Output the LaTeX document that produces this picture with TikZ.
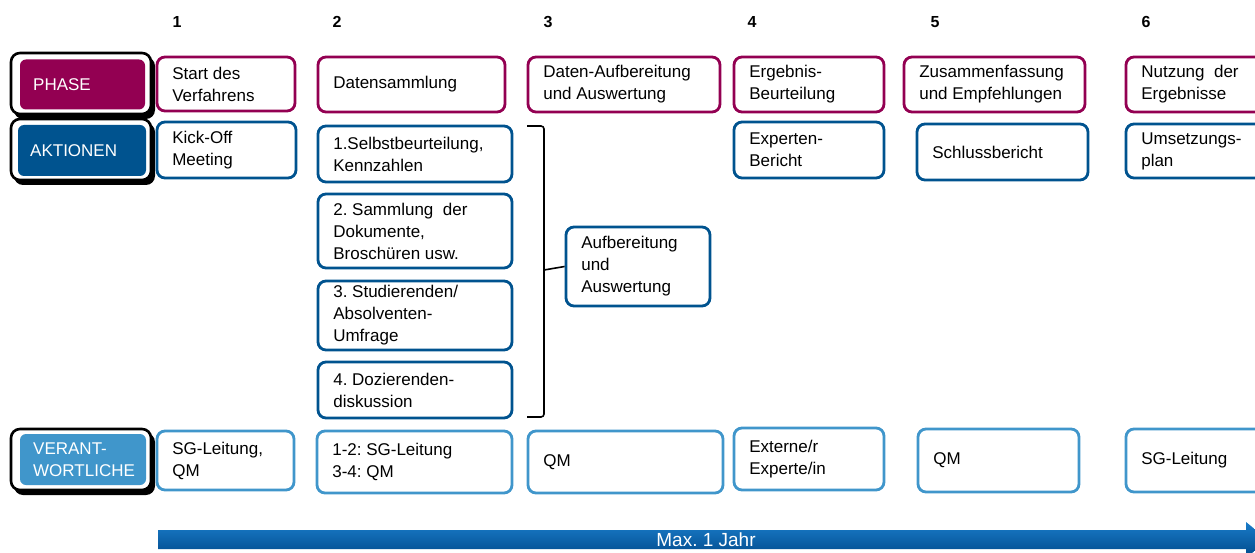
\documentclass[tikz,border=0pt]{standalone}
\usepackage{fontspec}
\setmainfont{Liberation Sans}
\frenchspacing
\definecolor{phasecol}{HTML}{930052}
\definecolor{aktcol}{HTML}{00538F}
\definecolor{vercol}{HTML}{4096CB}
\definecolor{bartop}{HTML}{1A7CC9}
\definecolor{barbot}{HTML}{00498A}
\newcommand\mkbox[7]{%
  \node[#6, minimum width={(#4-#2)*1pt}, minimum height={(#5-#3)*1pt}]
    (#1) at ({(#2+#4)/2},{(#3+#5)/2}) {};
  \node[boxtext, anchor=west] (#1t) at ([xshift=16.5pt]#1.west) {#7};}
\begin{document}
\begin{tikzpicture}[x=1pt,y=-1pt,
  every node/.style={font=\fontsize{17}{22}\selectfont, inner sep=0pt, align=left},
  boxtext/.style={inner sep=0pt},
  boxbase/.style={draw, rounded corners=8pt, line width=2.8pt, fill=white},
  phasebox/.style={boxbase, draw=phasecol},
  aktbox/.style={boxbase, draw=aktcol},
  verbox/.style={boxbase, draw=vercol},
  numlbl/.style={font=\fontsize{16}{18}\selectfont\bfseries, inner sep=0pt},
  framebox/.style={draw=black, line width=2.6pt, rounded corners=9pt, fill=white},
  shadowbox/.style={fill=black, rounded corners=9pt},
  labelbox/.style={rounded corners=6pt},
  labeltext/.style={text=white, anchor=west}
]
\useasboundingbox (0,0) rectangle (1255,553);

% column numbers
\node[numlbl] (n1) at (177,22) {1};
\node[numlbl] (n2) at (337,22) {2};
\node[numlbl] (n3) at (548,22) {3};
\node[numlbl] (n4) at (752,22) {4};
\node[numlbl] (n5) at (935,22) {5};
\node[numlbl] (n6) at (1146,22) {6};

% left label boxes
\foreach \ya/\yb in {53/114, 119/180, 429/490}{
  \fill[shadowbox] (14,{\ya+4}) rectangle (155,{\yb+5});
  \draw[framebox] (11,\ya) rectangle (151,\yb);
}
\node[labelbox, fill=phasecol, minimum width=125pt, minimum height=50pt] (lphase) at (82.5,84.5) {};
\node[labeltext] (lphaset) at (33,84.5) {PHASE};
\node[labelbox, fill=aktcol, minimum width=128pt, minimum height=51pt] (lakt) at (82,150.5) {};
\node[labeltext] (laktt) at (30,150.5) {AKTIONEN};
\node[labelbox, fill=vercol, minimum width=126pt, minimum height=51pt] (lver) at (83,459.5) {};
\node[labeltext] (lvert) at (33,459.5) {VERANT-\\WORTLICHE};

% phase row
\mkbox{p1}{157}{57}{295}{111}{phasebox}{Start des\\Verfahrens}
\mkbox{p2}{318}{57}{505}{112}{phasebox}{Datensammlung}
\mkbox{p3}{528}{57}{720}{112}{phasebox}{Daten-Aufbereitung\\und Auswertung}
\mkbox{p4}{734}{57}{884}{112}{phasebox}{Ergebnis-\\Beurteilung}
\mkbox{p5}{904}{57}{1085}{112}{phasebox}{Zusammenfassung\\und Empfehlungen}
\mkbox{p6}{1126}{57}{1275}{112}{phasebox}{Nutzung\ \ der\\Ergebnisse}

% aktionen row
\mkbox{a1}{157}{122}{296}{178}{aktbox}{Kick-Off\\Meeting}
\mkbox{a21}{318}{126}{512}{182}{aktbox}{1.Selbstbeurteilung,\\Kennzahlen}
\mkbox{a22}{318}{194}{512}{268}{aktbox}{2. Sammlung\ \ der\\Dokumente,\\Broschüren usw.}
\mkbox{a23}{318}{281}{512}{350}{aktbox}{3. Studierenden/\\Absolventen-\\Umfrage}
\mkbox{a24}{318}{362}{512}{418}{aktbox}{4. Dozierenden-\\diskussion}
\mkbox{a3}{566}{227}{710}{306}{aktbox}{Aufbereitung\\und\\Auswertung}
\mkbox{a4}{734}{122}{884}{178}{aktbox}{Experten-\\Bericht}
\mkbox{a5}{917}{124}{1088}{180}{aktbox}{Schlussbericht}
\mkbox{a6}{1126}{124}{1275}{178}{aktbox}{Umsetzungs-\\plan}

% brace
\coordinate (bt) at (527,126);
\coordinate (bb) at (527,417);
\coordinate (bm) at (544,270);
\draw[line width=1.6pt, rounded corners=3pt] (bt) -- (544,126) -- (bm);
\draw[line width=1.6pt, rounded corners=3pt] (bb) -- (544,417) -- (bm);
\draw[line width=1.6pt] (bm) -- (a3.west);

% verantwortliche row
\mkbox{v1}{157}{431}{294}{490}{verbox}{SG-Leitung,\\QM}
\mkbox{v2}{317}{431}{512}{493}{verbox}{1-2: SG-Leitung\\3-4: QM}
\mkbox{v3}{528}{431}{723}{493}{verbox}{QM}
\mkbox{v4}{734}{428}{884}{490}{verbox}{Externe/r\\Experte/in}
\mkbox{v5}{918}{429}{1079}{492}{verbox}{QM}
\mkbox{v6}{1126}{429}{1275}{492}{verbox}{SG-Leitung}

% timeline arrow
\shade[top color=bartop, bottom color=barbot]
  (158,530) -- (1246,530) -- (1246,522) -- (1268,540) -- (1246,558) -- (1246,549) -- (158,549) -- cycle;
\node[text=white, font=\fontsize{19}{22}\selectfont] (tl) at (706,540) {Max. 1 Jahr};
\end{tikzpicture}
\end{document}
